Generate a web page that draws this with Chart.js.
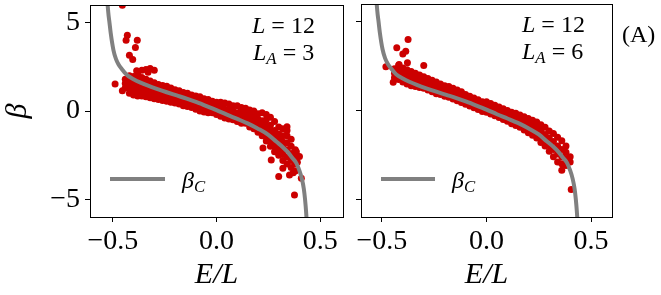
<!DOCTYPE html>
<html>
<head>
<meta charset="utf-8">
<script src="https://cdn.jsdelivr.net/npm/chart.js@4.4.1/dist/chart.umd.min.js"></script>
<style>
body{margin:0;background:#fff;width:661px;height:295px;overflow:hidden;position:relative;font-family:"Liberation Serif",serif;}
canvas{position:absolute;top:0;}
.t{position:absolute;white-space:nowrap;color:#000;line-height:1;}
.t sub{font-size:0.7em;vertical-align:-0.25em;}
.leg{position:absolute;height:4px;background:#808080;}
</style>
</head>
<body>
<canvas id="c1" width="350" height="295" style="left:0"></canvas>
<canvas id="c2" width="311" height="295" style="left:350px"></canvas>

<div class="t" style="left:252px;top:13px;font-size:24px"><i>L</i> = 12</div>
<div class="t" style="left:253px;top:40px;font-size:24px"><i>L<sub>A</sub></i> = 3</div>
<div class="t" style="left:522px;top:12px;font-size:24px"><i>L</i> = 12</div>
<div class="t" style="left:522px;top:39px;font-size:24px"><i>L<sub>A</sub></i> = 6</div>
<div class="t" style="left:622px;top:22px;font-size:24px">(A)</div>

<div class="leg" style="left:110px;top:177px;width:55px"></div>
<div class="t" style="left:182px;top:168px;font-size:24px"><i>β<sub>C</sub></i></div>
<div class="leg" style="left:381px;top:177px;width:54px"></div>
<div class="t" style="left:452px;top:168px;font-size:24px"><i>β<sub>C</sub></i></div>

<script>
'use strict';

var xTicks = [-0.5, 0, 0.5];
var yTicks = [-5, 0, 5];

// beta_C curve (same for both panels)
var curveE = [-0.530, -0.527, -0.522, -0.516, -0.510, -0.497, -0.485, -0.473, -0.455, -0.433, -0.400, -0.369, -0.330, -0.288, -0.240, -0.192, -0.144, -0.096, -0.048, 0.000, 0.050, 0.100, 0.150, 0.200, 0.250, 0.288, 0.320, 0.344, 0.365, 0.385, 0.400, 0.412, 0.421, 0.427, 0.432, 0.436, 0.440];
var curveB = [8.0, 6.5, 5.6, 5.0, 4.4, 3.45, 2.95, 2.65, 2.35, 2.05, 1.80, 1.62, 1.43, 1.25, 1.06, 0.88, 0.70, 0.50, 0.28, 0.05, -0.21, -0.45, -0.70, -1.00, -1.35, -1.73, -2.05, -2.33, -2.65, -2.95, -3.38, -3.85, -4.40, -5.00, -5.70, -6.50, -8.0];

// L_A = 3 : columns of points (E/L, list of beta)
var colE3 = [-0.44, -0.42, -0.40, -0.38, -0.36, -0.34, -0.32, -0.30, -0.28, -0.26, -0.24, -0.22, -0.20, -0.18, -0.16, -0.14, -0.12, -0.10, -0.08, -0.06, -0.04, -0.02, 0.00, 0.02, 0.04, 0.06, 0.08, 0.10, 0.12, 0.14, 0.16, 0.18, 0.20, 0.22, 0.24, 0.26, 0.28, 0.30, 0.32, 0.34, 0.36, 0.38];
var colB3 = [
 [1.3, 1.55, 1.8],
 [1.0, 1.3, 1.55, 1.8, 2.0],
 [0.9, 1.15, 1.4, 1.65, 1.95],
 [0.85, 1.1, 1.35, 1.6, 1.85, 2.05],
 [0.85, 1.1, 1.35, 1.6, 1.9],
 [0.8, 1.05, 1.3, 1.55, 1.8],
 [0.75, 1.0, 1.25, 1.5, 1.7],
 [0.7, 0.95, 1.2, 1.4, 1.6],
 [0.65, 0.9, 1.15, 1.35, 1.5],
 [0.6, 0.85, 1.1, 1.3, 1.45],
 [0.55, 0.8, 1.05, 1.25, 1.4],
 [0.5, 0.75, 1.0, 1.3],
 [0.45, 0.7, 0.95, 1.2],
 [0.4, 0.65, 0.9, 1.15],
 [0.3, 0.55, 0.8, 1.05],
 [0.25, 0.5, 0.75, 1.0],
 [0.2, 0.45, 0.7, 0.9],
 [0.1, 0.35, 0.6, 0.85],
 [0.0, 0.25, 0.5, 0.8],
 [-0.05, 0.2, 0.45, 0.7],
 [-0.1, 0.15, 0.4, 0.65],
 [-0.1, 0.1, 0.35, 0.55],
 [-0.2, 0.05, 0.3, 0.5],
 [-0.3, -0.05, 0.2, 0.5],
 [-0.4, -0.15, 0.1, 0.45],
 [-0.45, -0.2, 0.05, 0.4],
 [-0.5, -0.25, 0.0, 0.3],
 [-0.6, -0.35, -0.1, 0.3],
 [-0.7, -0.45, -0.2, 0.05, 0.2],
 [-0.7, -0.5, -0.25, 0.0, 0.15],
 [-0.9, -0.65, -0.4, -0.15, 0.05],
 [-1.0, -0.75, -0.5, -0.25, 0.0],
 [-1.2, -0.95, -0.7, -0.45, -0.15],
 [-1.4, -1.1, -0.85, -0.55, -0.1],
 [-1.7, -1.4, -1.1, -0.8, -0.5, -0.2],
 [-2.0, -1.7, -1.4, -1.1, -0.8, -0.35],
 [-2.3, -2.0, -1.7, -1.4, -1.1, -0.6],
 [-2.5, -2.2, -1.9, -1.6, -1.3, -0.9],
 [-2.8, -2.45, -2.1, -1.75, -1.4, -1.0],
 [-3.0, -2.6, -2.2, -1.8, -1.4, -1.1],
 [-3.2, -2.8, -2.4, -2.0, -1.6],
 [-3.4, -3.0, -2.6, -2.2]
];
var outE3 = [-0.454, -0.430, -0.436, -0.382, -0.391, -0.420, -0.404, -0.489, -0.454, -0.385, -0.360, -0.340, -0.320, -0.300, -0.330, 0.300, 0.376, 0.352, 0.340, 0.385, 0.400, 0.409, 0.264, 0.320, 0.224, 0.370, 0.390];
var outB3 = [5.99, 4.29, 4.01, 4.01, 3.60, 3.16, 2.92, 1.53, 1.15, 2.28, 2.30, 2.35, 2.40, 2.30, 2.20, -3.71, -4.75, -3.62, -0.89, -2.30, -2.58, -3.80, -2.77, -3.24, -2.10, -3.50, -2.90];

// L_A = 6
var colE6 = [-0.44, -0.42, -0.40, -0.38, -0.36, -0.34, -0.32, -0.30, -0.28, -0.26, -0.24, -0.22, -0.20, -0.18, -0.16, -0.14, -0.12, -0.10, -0.08, -0.06, -0.04, -0.02, 0.00, 0.02, 0.04, 0.06, 0.08, 0.10, 0.12, 0.14, 0.16, 0.18, 0.20, 0.22, 0.24, 0.26, 0.28, 0.30, 0.32, 0.34, 0.36, 0.38, 0.40];
var colB6 = [
 [1.85, 2.1, 2.35],
 [1.75, 2.0, 2.25, 2.55],
 [1.6, 1.85, 2.1, 2.4],
 [1.5, 1.75, 2.0, 2.3],
 [1.4, 1.65, 1.9, 2.2],
 [1.35, 1.6, 1.85, 2.1],
 [1.3, 1.55, 1.8, 2.0],
 [1.25, 1.5, 1.7, 1.9],
 [1.15, 1.4, 1.6, 1.8],
 [1.05, 1.3, 1.5, 1.7],
 [0.95, 1.2, 1.4, 1.6],
 [0.9, 1.1, 1.3, 1.5],
 [0.8, 1.0, 1.2, 1.4],
 [0.75, 0.95, 1.15, 1.35],
 [0.65, 0.85, 1.05, 1.25],
 [0.55, 0.75, 0.95, 1.15],
 [0.45, 0.65, 0.85, 1.05],
 [0.35, 0.55, 0.75, 0.9],
 [0.25, 0.45, 0.65, 0.8],
 [0.15, 0.35, 0.55, 0.7],
 [0.05, 0.25, 0.45, 0.6],
 [-0.05, 0.15, 0.35, 0.5],
 [-0.1, 0.1, 0.3, 0.5],
 [-0.2, 0.0, 0.2, 0.4],
 [-0.3, -0.1, 0.1, 0.3],
 [-0.4, -0.2, 0.0, 0.2],
 [-0.5, -0.3, -0.1, 0.1],
 [-0.6, -0.4, -0.2, 0.0],
 [-0.75, -0.5, -0.3, -0.1],
 [-0.85, -0.6, -0.4, -0.15],
 [-0.95, -0.7, -0.45, -0.25],
 [-1.1, -0.85, -0.6, -0.35],
 [-1.25, -1.0, -0.7, -0.45],
 [-1.4, -1.15, -0.85, -0.55],
 [-1.55, -1.3, -1.0, -0.65],
 [-1.8, -1.5, -1.15, -0.8],
 [-2.0, -1.7, -1.35, -0.95],
 [-2.3, -1.95, -1.55, -1.15],
 [-2.6, -2.2, -1.75, -1.3],
 [-2.9, -2.45, -2.0, -1.5],
 [-3.0, -2.6, -2.2, -1.7],
 [-3.1, -2.7, -2.35, -2.0],
 [-2.9, -2.6]
];
var outE6 = [-0.375, -0.429, -0.386, -0.400, -0.481, -0.446, -0.300, -0.378, -0.418, 0.405, 0.360];
var outB6 = [4.00, 3.53, 3.34, 3.19, 2.46, 1.59, 2.53, 2.69, 2.59, -4.45, -3.36];

var RED = '#cc0000';
var GREY = '#808080';
var FONT = 'Liberation Serif';

function toPoints(colE, colB, outE, outB) {
  var pts = [];
  colE.forEach(function (e, i) {
    colB[i].forEach(function (b) { pts.push({x: e, y: b}); });
  });
  outE.forEach(function (e, i) { pts.push({x: e, y: outB[i]}); });
  return pts;
}

var curve = curveE.map(function (e, i) { return {x: e, y: curveB[i]}; });

var boxPlugin = {
  id: 'box',
  afterDraw: function (chart) {
    var a = chart.chartArea, c = chart.ctx;
    c.save();
    c.strokeStyle = '#000';
    c.lineWidth = 1;
    c.strokeRect(Math.floor(a.left) + 0.5, Math.floor(a.top) + 0.5, Math.round(a.right - a.left), Math.round(a.bottom - a.top));
    c.restore();
  }
};

function minus(v, d) {
  return (v < 0 ? '\u2212' : '') + Math.abs(v).toFixed(d);
}

function makePanel(id, pts, xMin, xMax, yWidth, pad, showY) {
  return new Chart(document.getElementById(id), {
    type: 'scatter',
    data: {
      datasets: [
        {
          data: curve, showLine: true, borderColor: GREY, borderWidth: 4,
          pointRadius: 0, cubicInterpolationMode: 'monotone', clip: 0, order: 0
        },
        {
          data: pts, pointRadius: 3.5, pointBorderWidth: 0,
          pointBackgroundColor: RED, backgroundColor: RED, clip: 0, order: 1
        }
      ]
    },
    options: {
      responsive: false, animation: false, devicePixelRatio: 1,
      layout: {padding: pad},
      plugins: {legend: {display: false}, tooltip: {enabled: false}},
      scales: {
        x: {
          type: 'linear', min: xMin, max: xMax,
          afterBuildTicks: function (s) { s.ticks = xTicks.map(function (v) { return {value: v}; }); },
          afterFit: function (s) { s.height = 78; s.paddingLeft = 0; s.paddingRight = 0; },
          grid: {drawOnChartArea: false, drawTicks: true, tickLength: 5, tickColor: '#000'},
          border: {display: false},
          ticks: {color: '#000', padding: 3, maxRotation: 0, font: {family: FONT, size: 28},
            callback: function (v) { return minus(v, 1); }},
          title: {display: true, text: 'E/L', color: '#000', padding: {top: 0, bottom: 2},
            font: {family: FONT, size: 30, style: 'italic'}}
        },
        y: {
          type: 'linear', min: -6, max: 6,
          afterBuildTicks: function (s) { s.ticks = yTicks.map(function (v) { return {value: v}; }); },
          afterFit: function (s) { s.width = yWidth; s.paddingTop = 0; s.paddingBottom = 0; },
          grid: {drawOnChartArea: false, drawTicks: true, tickLength: 5, tickColor: '#000'},
          border: {display: false},
          ticks: {display: showY, color: '#000', padding: 5, font: {family: FONT, size: 28},
            callback: function (v) { return minus(v, 0); }},
          title: {display: showY, text: 'β', color: '#000', padding: {top: 0, bottom: 0},
            font: {family: FONT, size: 30, style: 'italic'}}
        }
      }
    },
    plugins: [boxPlugin]
  });
}

makePanel('c1', toPoints(colE3, colB3, outE3, outB3), -0.61, 0.61, 90, {top: 5, right: 7, left: 0, bottom: 0}, true);
makePanel('c2', toPoints(colE6, colB6, outE6, outB6), -0.60, 0.60, 11, {top: 4, right: 49, left: 0, bottom: 0}, false);
</script>
</body>
</html>
